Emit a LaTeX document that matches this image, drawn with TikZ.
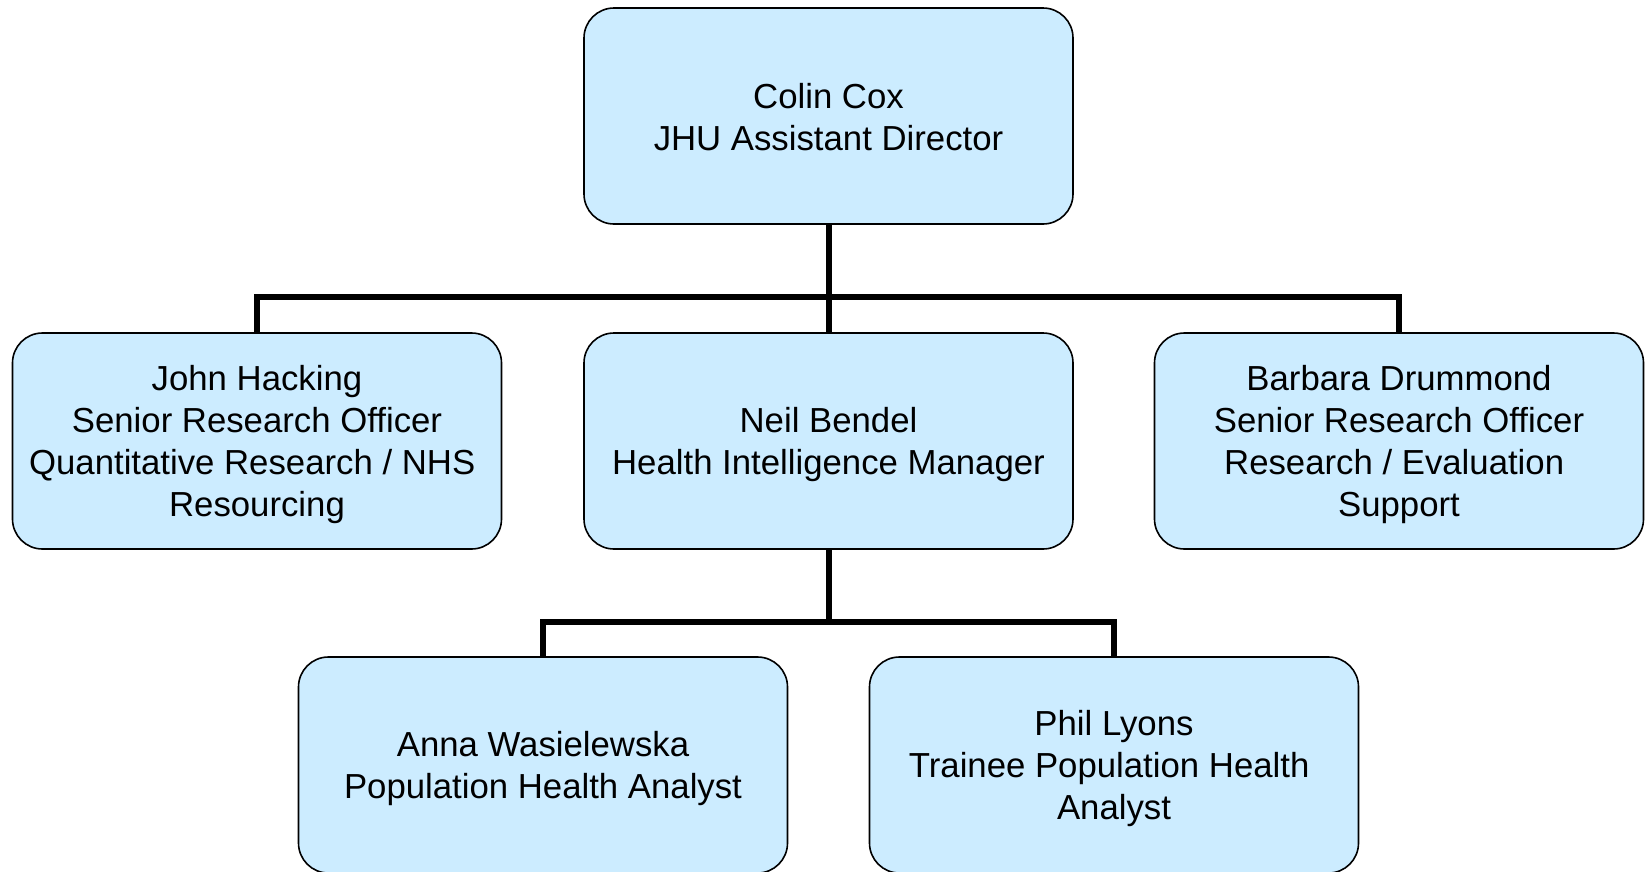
\documentclass[tikz,border=0pt]{standalone}
\usepackage{fontspec}
\setmainfont{Liberation Sans}
\definecolor{boxfill}{RGB}{204,236,255}
\begin{document}
\begin{tikzpicture}[x=1pt,y=-1pt,
  person/.style={draw=black, line width=1.6pt, fill=boxfill, rounded corners=30pt,
    minimum width=489pt, minimum height=216pt, inner sep=0pt},
  txt/.style={align=center, inner sep=0pt, yshift=-3.5pt,
    font=\fontsize{34.75pt}{41.7pt}\selectfont},
  link/.style={draw=black, line width=6pt}]
\useasboundingbox (0,0) rectangle (1650,871);
\fill[white] (0,0) rectangle (1650,871);
\node[person, label={[txt, yshift=2.5pt]center:{Colin Cox\\JHU Assistant Director}}] (top) at (828.5,116) {};
\node[person, label={[txt]center:{John Hacking\\Senior Research Officer\\Quantitative Research / NHS\ \mbox{}\\Resourcing}}] (left) at (257,441) {};
\node[person, label={[txt]center:{Neil Bendel\\Health Intelligence Manager}}] (mid) at (828.5,441) {};
\node[person, label={[txt]center:{Barbara Drummond\\Senior Research Officer\\Research / Evaluation\ \mbox{}\\Support}}] (right) at (1399,441) {};
\node[person, label={[txt]center:{Anna Wasielewska\\Population Health Analyst}}] (bl) at (543,765) {};
\node[person, label={[txt]center:{Phil Lyons\\Trainee Population Health\ \mbox{}\\Analyst}}] (br) at (1114,765) {};
\coordinate (bus1) at (828.5,297);
\coordinate (bus2) at (828.5,621.5);
\draw[link] (top.south) -- (mid.north);
\draw[link] (left.north) |- (bus1) -| (right.north);
\draw[link] (mid.south) -- (bus2);
\draw[link] (bl.north) |- (bus2) -| (br.north);
\end{tikzpicture}
\end{document}
